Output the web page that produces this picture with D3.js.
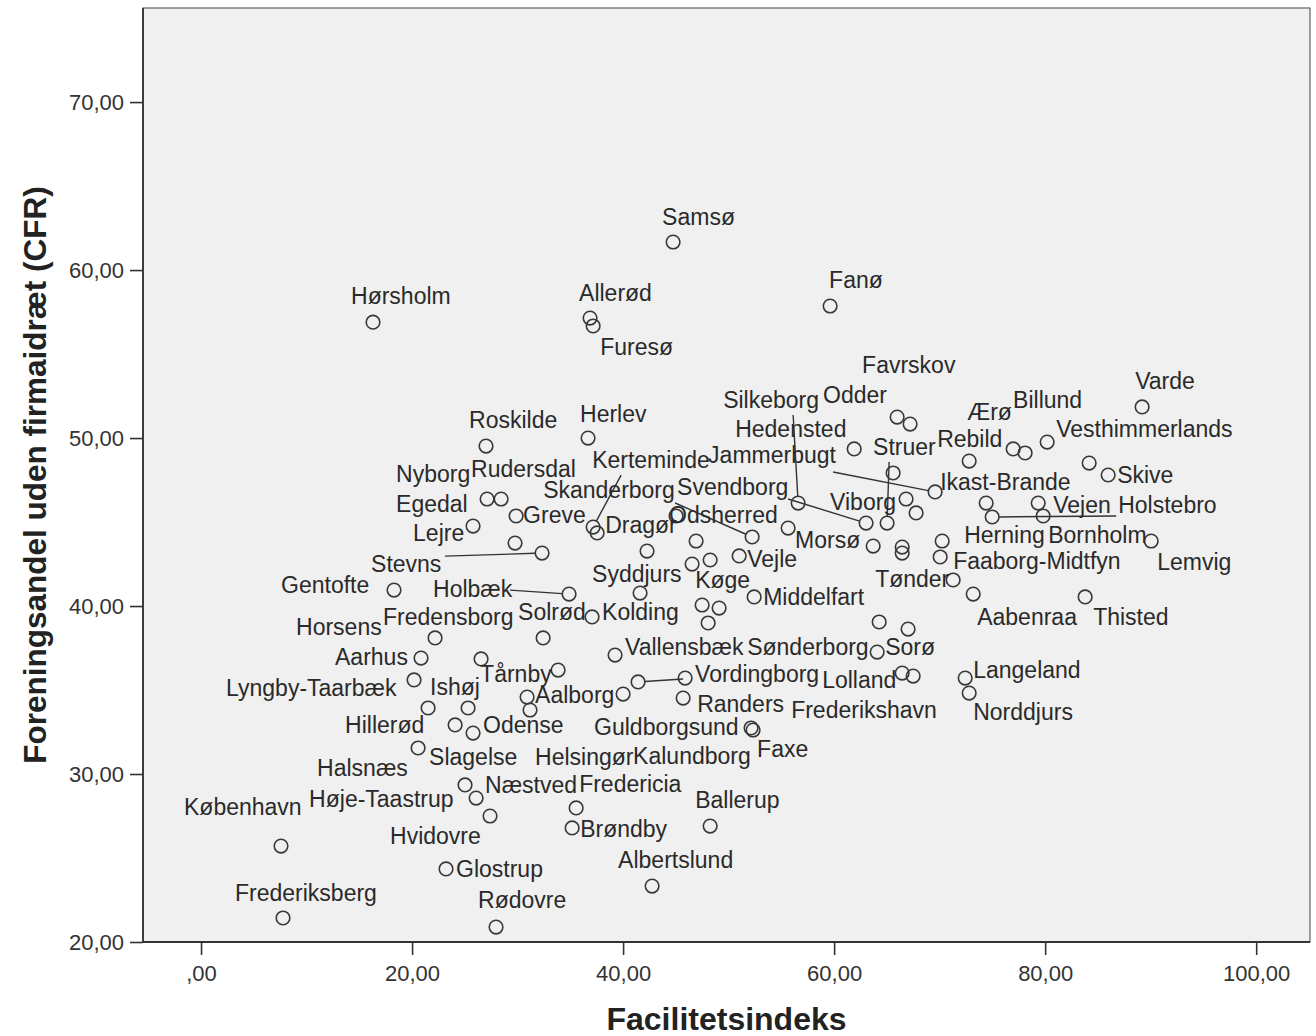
<!DOCTYPE html>
<html>
<head>
<meta charset="utf-8">
<script src="https://cdn.jsdelivr.net/npm/d3@7"></script>
<style>
  body { margin: 0; background: #fff; }
  text { font-family: "Liberation Sans", Arial, sans-serif; }
</style>
</head>
<body>
<script>
// municipalities: facility index (x) vs. association share without company sport (y)
// empty name = point drawn without a label (hidden behind others in the original)
const names = [
  'Samsø', 'Fanø', 'Allerød', 'Furesø', 'Hørsholm', 'Herlev', 'Roskilde', 'Nyborg',
  'Rudersdal', 'Greve', 'Lejre', 'Egedal', 'Stevns', 'Gentofte', 'Holbæk', 'Kerteminde',
  'Dragør', 'Odsherred', 'Vejle', 'Skanderborg', 'Middelfart', 'Morsø', 'Silkeborg', 'Svendborg',
  'Syddjurs', 'Køge', 'Hedensted', 'Odder', 'Favrskov', 'Struer', 'Jammerbugt', 'Viborg',
  'Rebild', 'Herning', 'Faaborg-Midtfyn', 'Tønder', 'Aabenraa', 'Varde', 'Ærø', 'Billund',
  'Vesthimmerlands', 'Skive', 'Ikast-Brande', 'Holstebro', 'Vejen', 'Bornholm', 'Lemvig', 'Thisted',
  'Sønderborg', 'Sorø', 'Lolland', 'Frederikshavn', 'Langeland', 'Norddjurs', 'Vallensbæk', 'Vordingborg',
  'Randers', 'Guldborgsund', 'Faxe', 'Kolding', 'Solrød', 'Tårnby', 'Aalborg', 'Helsingør',
  'Kalundborg', 'Horsens', 'Aarhus', 'Fredensborg', 'Lyngby-Taarbæk', 'Hillerød', 'Ishøj', 'Halsnæs',
  'Odense', 'Slagelse', 'Næstved', 'Fredericia', 'Høje-Taastrup', 'København', 'Hvidovre', 'Brøndby',
  'Glostrup', 'Frederiksberg', 'Rødovre', 'Ballerup', 'Albertslund',
  '', '', '', '', '', '', '', '', '', '', '', '', '', ''
]

const facilitet = [
  44.74, 59.62, 36.87, 37.16, 16.30, 36.68, 27.01, 27.11,
  28.44, 29.86, 25.78, 29.76, 32.32, 18.29, 34.88, 37.16,
  37.54, 45.02, 51.00, 52.23, 52.42, 55.64, 56.59, 63.03,
  41.61, 47.49, 61.90, 65.97, 67.20, 65.02, 69.57, 66.82,
  72.80, 70.24, 70.05, 71.28, 73.18, 89.19, 76.97, 78.10,
  80.19, 85.97, 74.41, 74.98, 79.34, 79.81, 90.05, 83.79,
  64.27, 64.08, 66.45, 67.49, 72.42, 72.80, 39.24, 41.42,
  45.69, 52.13, 52.32, 37.06, 32.42, 33.84, 30.90, 31.18,
  40.00, 22.18, 20.85, 26.54, 20.19, 21.52, 25.31, 24.08,
  25.78, 20.57, 25.02, 35.55, 26.07, 7.58, 27.39, 35.17,
  23.22, 7.77, 27.96, 48.25, 42.75,
  42.27, 46.92, 48.25, 46.54, 49.10, 48.06, 65.59, 67.77, 63.70, 66.45, 66.45, 84.17, 67.01, 45.88
]

const cfr = [
  61.67, 57.86, 57.14, 56.67, 56.90, 50.00, 49.52, 46.37,
  46.37, 45.36, 44.76, 43.75, 43.15, 40.95, 40.71, 44.70,
  44.35, 45.36, 42.98, 44.11, 40.54, 44.64, 46.13, 44.94,
  40.77, 40.06, 49.35, 51.25, 50.83, 44.94, 46.79, 46.37,
  48.63, 43.87, 42.92, 41.55, 40.71, 51.85, 49.35, 49.11,
  49.76, 47.80, 46.13, 45.30, 46.13, 45.36, 43.87, 40.54,
  39.05, 37.26, 36.01, 35.83, 35.71, 34.82, 37.08, 35.48,
  34.52, 32.74, 32.62, 39.35, 38.10, 36.19, 34.58, 33.81,
  34.76, 38.10, 36.90, 36.85, 35.60, 33.93, 33.93, 32.92,
  32.44, 31.55, 29.35, 27.98, 28.57, 25.71, 27.50, 26.79,
  24.35, 21.43, 20.89, 26.90, 23.33,
  43.27, 43.87, 42.74, 42.50, 39.88, 38.99, 47.92, 45.54, 43.57, 43.51, 43.15, 48.51, 38.63, 35.71
]

const xTicks = [0, 20, 40, 60, 80, 100]
const yTicks = [20, 30, 40, 50, 60, 70]
const xTitle = 'Facilitetsindeks'
const yTitle = 'Foreningsandel uden firmaidræt (CFR)'

// label placement (pixel offsets from the point): [dx, dy, leaderDx, leaderDy]
const labelLayout = {
  'Samsø': [-11, -17], 'Fanø': [-1, -18], 'Allerød': [-11, -17], 'Furesø': [7, 29],
  'Hørsholm': [-22, -18], 'Herlev': [-8, -16], 'Roskilde': [-17, -18], 'Nyborg': [-91, -17],
  'Rudersdal': [-30, -22], 'Greve': [7, 7], 'Lejre': [-60, 15], 'Egedal': [-119, -31],
  'Stevns': [-171, 19, -97, 3], 'Gentofte': [-113, 3], 'Holbæk': [-136, 3, -59, -4],
  'Kerteminde': [-1, -59, 28, -52], 'Dragør': [8, 0], 'Odsherred': [-7, 7], 'Vejle': [8, 11],
  'Skanderborg': [-209, -39, -77, -34], 'Middelfart': [9, 8], 'Morsø': [7, 20],
  'Silkeborg': [-75, -95, -5, -88], 'Svendborg': [-189, -28, -78, -24],
  'Syddjurs': [-48, -11], 'Køge': [-7, -17], 'Hedensted': [-119, -12], 'Odder': [-74, -14],
  'Favrskov': [-48, -51], 'Struer': [-14, -68, 2, -61], 'Jammerbugt': [-227, -29, -102, -20],
  'Viborg': [-76, 11], 'Rebild': [-32, -14], 'Herning': [22, 2], 'Faaborg-Midtfyn': [13, 12],
  'Tønder': [-78, 7], 'Aabenraa': [4, 31], 'Varde': [-7, -18], 'Ærø': [-46, -29],
  'Billund': [-12, -45], 'Vesthimmerlands': [9, -5], 'Skive': [9, 8], 'Ikast-Brande': [-46, -13],
  'Holstebro': [126, -4, 124, -1], 'Vejen': [15, 10], 'Bornholm': [5, 27], 'Lemvig': [6, 29],
  'Thisted': [8, 28], 'Sønderborg': [-132, 33], 'Sorø': [8, 3], 'Lolland': [-80, 15],
  'Frederikshavn': [-122, 42], 'Langeland': [8, 0], 'Norddjurs': [4, 27], 'Vallensbæk': [10, 0],
  'Vordingborg': [57, 0, 45, -3], 'Randers': [14, 14], 'Guldborgsund': [-157, 7], 'Faxe': [4, 27],
  'Kolding': [10, 3], 'Solrød': [-25, -18], 'Tårnby': [-78, 12], 'Aalborg': [8, 6],
  'Helsingør': [5, 55], 'Kalundborg': [10, 70], 'Horsens': [-139, -3], 'Aarhus': [-86, 7],
  'Fredensborg': [-98, -34], 'Lyngby-Taarbæk': [-188, 16], 'Hillerød': [-83, 25], 'Ishøj': [-38, -13],
  'Halsnæs': [-138, 51], 'Odense': [10, 0], 'Slagelse': [11, 17], 'Næstved': [20, 8],
  'Fredericia': [3, -16], 'Høje-Taastrup': [-167, 9], 'København': [-97, -31], 'Hvidovre': [-100, 28],
  'Brøndby': [8, 9], 'Glostrup': [10, 8], 'Frederiksberg': [-48, -17], 'Rødovre': [-18, -19],
  'Ballerup': [-15, -18], 'Albertslund': [-34, -18]
}

// measurements for the plot
let m = {
  width: 1316,
  height: 1036,
  left: 143,
  right: 1310,
  top: 8,
  bottom: 942,
  r: 6.8,
}

let data = names.map(function(d, i) { return { name: d, x: facilitet[i], y: cfr[i] } })

let svg = d3.select('body')
  .append('svg')
  .attr('width', m.width)
  .attr('height', m.height)

let xScale = d3.scaleLinear()
  .domain([-5.5, 105.1])
  .range([m.left, m.right])

let yScale = d3.scaleLinear()
  .domain([20, 75.6])
  .range([m.bottom, m.top])

// danish style numbers: 20,00 and ,00
let locale = d3.formatLocale({ decimal: ',', thousands: '.', grouping: [3], currency: ['', ' kr.'] })
let fmt = function(d) { return locale.format('.2f')(d).replace(/^0,/, ',') }

// plot background + frame
svg.append('rect')
  .attr('x', m.left)
  .attr('y', m.top)
  .attr('width', m.right - m.left)
  .attr('height', m.bottom - m.top)
  .attr('fill', '#f0f0f0')
  .attr('stroke', '#444')
  .attr('stroke-width', 1)

let xAxis = d3.axisBottom(xScale)
  .tickValues(xTicks)
  .tickFormat(fmt)
  .tickSize(13)
  .tickSizeOuter(0)
  .tickPadding(10)

let yAxis = d3.axisLeft(yScale)
  .tickValues(yTicks)
  .tickFormat(fmt)
  .tickSize(13)
  .tickSizeOuter(0)
  .tickPadding(6)

svg.append('g')
  .attr('transform', 'translate(0,' + m.bottom + ')')
  .call(xAxis)

svg.append('g')
  .attr('transform', 'translate(' + m.left + ',0)')
  .call(yAxis)

svg.selectAll('.domain').remove()
svg.selectAll('.tick line').attr('stroke', '#333').attr('stroke-width', 1.6)
svg.selectAll('.tick text')
  .attr('fill', '#333')
  .style('font-size', '22px')
  .style('font-family', '"Liberation Sans", Arial, sans-serif')

// axis lines
svg.append('line')
  .attr('x1', m.left).attr('x2', m.right)
  .attr('y1', m.bottom).attr('y2', m.bottom)
  .attr('stroke', '#333').attr('stroke-width', 1.8)

svg.append('line')
  .attr('x1', m.left).attr('x2', m.left)
  .attr('y1', m.top).attr('y2', m.bottom)
  .attr('stroke', '#333').attr('stroke-width', 1.8)

// axis titles
svg.append('text')
  .attr('x', (m.left + m.right) / 2)
  .attr('y', 1030)
  .attr('text-anchor', 'middle')
  .attr('fill', '#222')
  .style('font-size', '32px')
  .style('font-weight', 'bold')
  .text(xTitle)

svg.append('text')
  .attr('transform', 'translate(46,' + (m.top + m.bottom) / 2 + ') rotate(-90)')
  .attr('text-anchor', 'middle')
  .attr('fill', '#222')
  .style('font-size', '31.5px')
  .style('font-weight', 'bold')
  .text(yTitle)

let labelled = data.filter(function(d) { return d.name !== '' })

// leader lines (from the label side to the edge of the circle)
svg.selectAll('line.leader')
  .data(labelled.filter(function(d) { return labelLayout[d.name].length > 2 }))
  .enter()
  .append('line')
    .attr('class', 'leader')
    .attr('x1', function(d) { return xScale(d.x) + labelLayout[d.name][2] })
    .attr('y1', function(d) { return yScale(d.y) + labelLayout[d.name][3] })
    .attr('x2', function(d) {
      let l = labelLayout[d.name]
      let len = Math.hypot(l[2], l[3])
      return xScale(d.x) + l[2] / len * m.r
    })
    .attr('y2', function(d) {
      let l = labelLayout[d.name]
      let len = Math.hypot(l[2], l[3])
      return yScale(d.y) + l[3] / len * m.r
    })
    .attr('stroke', '#333')
    .attr('stroke-width', 1.4)

svg.selectAll('circle')
  .data(data)
  .enter()
  .append('circle')
    .attr('cx', function(d) { return xScale(d.x) })
    .attr('cy', function(d) { return yScale(d.y) })
    .attr('r', m.r)
    .attr('fill', 'none')
    .attr('stroke', '#383838')
    .attr('stroke-width', 1.6)

svg.selectAll('text.point')
  .data(labelled)
  .enter()
  .append('text')
    .attr('class', 'point')
    .attr('x', function(d) { return xScale(d.x) + labelLayout[d.name][0] })
    .attr('y', function(d) { return yScale(d.y) + labelLayout[d.name][1] })
    .attr('fill', '#2a2a2a')
    .style('font-size', '23px')
    .text(function(d) { return d.name })
</script>
</body>
</html>
